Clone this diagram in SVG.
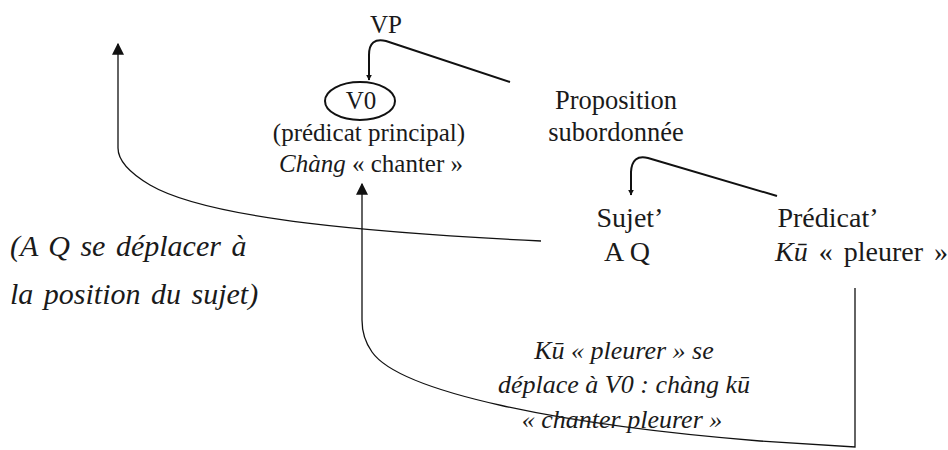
<svg xmlns="http://www.w3.org/2000/svg" width="948" height="450" viewBox="0 0 948 450" font-family="'Liberation Serif', 'DejaVu Serif', serif">
<style>
text{font-family:'Liberation Serif','DejaVu Serif',serif;fill:#1a1a1a;}
.n{font-size:25px;}
.p{font-size:26.5px;}
.s{font-size:28px;}
.it{font-size:26px;font-style:italic;}
.il{font-size:30px;font-style:italic;word-spacing:3px;}
.c{fill:none;stroke:#111;stroke-width:2;}
.t{fill:none;stroke:#111;stroke-width:1.3;}
</style>
<defs>
<marker id="big" viewBox="0 0 10 10" refX="9" refY="5" markerWidth="12" markerHeight="12" markerUnits="userSpaceOnUse" orient="auto"><path d="M0,0 L10,5 L0,10 Z" fill="#111"/></marker>
<marker id="small" viewBox="0 0 10 10" refX="9" refY="5" markerWidth="6" markerHeight="6" markerUnits="userSpaceOnUse" orient="auto"><path d="M0,0 L10,5 L0,10 Z" fill="#111"/></marker>
</defs>
<g id="connectors">
<path class="c" d="M510,82 L386,41 Q369,37 369,55 L369,80" marker-end="url(#small)"/>
<path class="c" d="M777,196 L648,158 Q632,154 631,172 L631,195" marker-end="url(#small)"/>
<path class="t" d="M541,241 C380,233 210,220 150,185 Q118,166 118,148 L118,44" marker-end="url(#big)"/>
<path class="t" d="M855,288 L855,447 L760,441 C560,425 400,392 372,352 Q362,338 362,320 L362,184" marker-end="url(#big)"/>
</g>
<g id="vp"><text class="n" x="386" y="33" text-anchor="middle">VP</text></g>
<g id="v0">
<ellipse cx="360" cy="101" rx="35" ry="19" fill="none" stroke="#111" stroke-width="2"/>
<text class="n" x="361" y="109" text-anchor="middle">V0</text>
<text class="n" x="369" y="141" text-anchor="middle">(prédicat principal)</text>
<text class="n" x="371" y="172" text-anchor="middle" font-size="26"><tspan font-style="italic">Chàng</tspan> « chanter »</text>
</g>
<g id="prop"><text class="p" x="616" y="109" text-anchor="middle">Proposition</text>
<text class="p" x="616" y="141" text-anchor="middle">subordonnée</text></g>
<g id="sujet"><text class="s" x="630" y="227" text-anchor="middle">Sujet’</text>
<text class="s" x="627" y="261" text-anchor="middle">A Q</text></g>
<g id="predicat"><text class="s" x="828" y="227" text-anchor="middle">Prédicat’</text>
<text class="s" x="775" y="261" word-spacing="4"><tspan font-style="italic">Kū</tspan> « pleurer »</text></g>
<g id="note-left">
<text class="il" x="10" y="256">(A Q se déplacer à</text>
<text class="il" x="10" y="304">la position du sujet)</text>
</g>
<g id="note-bottom">
<text class="it" x="624" y="359" text-anchor="middle">Kū « pleurer » se</text>
<text class="it" x="624" y="393" text-anchor="middle">déplace à V0 : chàng kū</text>
<text class="it" x="622" y="428" text-anchor="middle">« chanter pleurer »</text>
</g>
</svg>
